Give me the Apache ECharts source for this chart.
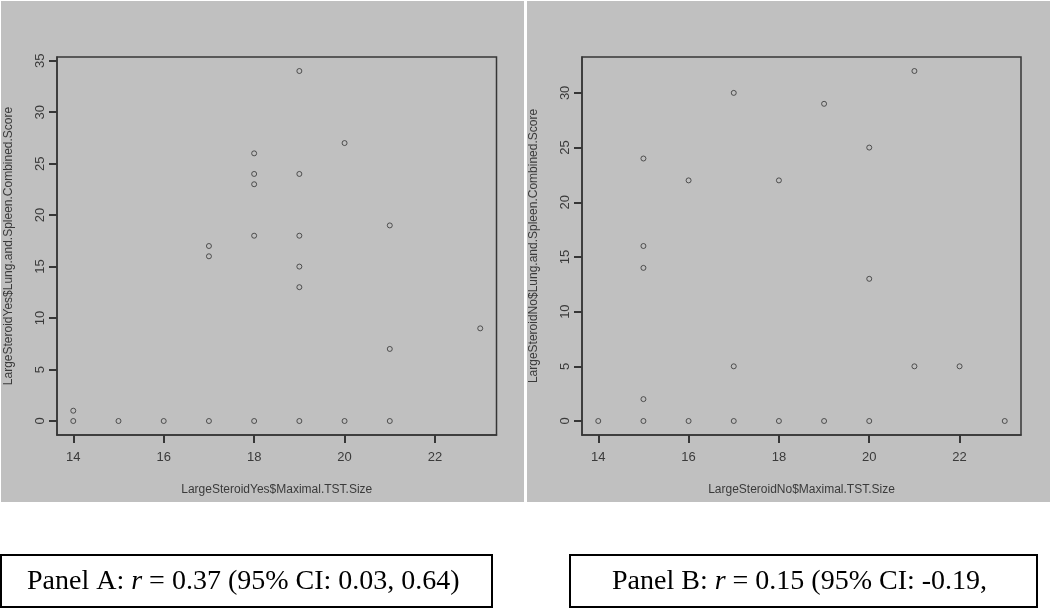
<!DOCTYPE html>
<html>
<head>
<meta charset="utf-8">
<script src="https://cdn.jsdelivr.net/npm/echarts@6/dist/echarts.min.js"></script>
<style>
html,body{margin:0;padding:0;background:#fff;}
#c{width:1050px;height:609px;}
</style>
</head>
<body>
<div id="c"></div>
<script>
// Panel A: Large steroid Yes
const sizeA  = [14, 14, 15, 16, 17, 17, 17, 18, 18, 18, 18, 18, 19, 19, 19, 19, 19, 19, 20, 20, 21, 21, 21, 23];
const scoreA = [ 0,  1,  0,  0,  0, 16, 17,  0, 18, 23, 24, 26,  0, 13, 15, 18, 24, 34,  0, 27,  0,  7, 19,  9];
// Panel B: Large steroid No
const sizeB  = [14, 15, 15, 15, 15, 15, 16, 16, 17, 17, 17, 18, 18, 19, 19, 20, 20, 20, 21, 21, 22, 23];
const scoreB = [ 0,  0,  2, 14, 16, 24,  0, 22,  0,  5, 30,  0, 22,  0, 29,  0, 13, 25,  5, 32,  5,  0];

const xTicks  = [14, 16, 18, 20, 22];
const yTicksA = [0, 5, 10, 15, 20, 25, 30, 35];
const yTicksB = [0, 5, 10, 15, 20, 25, 30];

const xTitleA = 'LargeSteroidYes$Maximal.TST.Size';
const yTitleA = 'LargeSteroidYes$Lung.and.Spleen.Combined.Score';
const xTitleB = 'LargeSteroidNo$Maximal.TST.Size';
const yTitleB = 'LargeSteroidNo$Lung.and.Spleen.Combined.Score';
const captionA = ['Panel A: ', 'r', ' = 0.37 (95% CI: 0.03, 0.64)'];
const captionB = ['Panel B: ', 'r', ' = 0.15 (95% CI: -0.19,'];

// R-style 4% range extension
function ext(lo, hi){ const d = (hi - lo) * 0.04; return [lo - d, hi + d]; }
const xrA = ext(Math.min(...sizeA), Math.max(...sizeA));
const yrA = ext(Math.min(...scoreA), Math.max(...scoreA));
const xrB = ext(Math.min(...sizeB), Math.max(...sizeB));
const yrB = ext(Math.min(...scoreB), Math.max(...scoreB));

const ink = '#363636';
const txt = '#3a3a3a';
const font = 'Liberation Sans, Arial, sans-serif';

function xAxis(gi, r, title){
  return {
    type: 'value', gridIndex: gi, min: r[0], max: r[1],
    name: title, nameLocation: 'middle', nameGap: 49,
    nameTextStyle: {color: txt, fontSize: 12, fontFamily: font},
    splitLine: {show: false},
    axisLine: {show: true, onZero: false, lineStyle: {color: ink, width: 1.5}},
    axisTick: {show: true, inside: false, length: 8, customValues: xTicks, lineStyle: {color: ink, width: 2}},
    axisLabel: {show: true, margin: 16, customValues: xTicks, color: txt, fontSize: 13, fontFamily: font}
  };
}
function yAxis(gi, r, ticks, title){
  return {
    type: 'value', gridIndex: gi, min: r[0], max: r[1],
    name: title, nameLocation: 'middle', nameGap: 42, nameRotate: 90,
    nameTextStyle: {color: txt, fontSize: 12, fontFamily: font},
    splitLine: {show: false},
    axisLine: {show: true, onZero: false, lineStyle: {color: ink, width: 1.5}},
    axisTick: {show: true, inside: false, length: 8, customValues: ticks, lineStyle: {color: ink, width: 2}},
    axisLabel: {show: true, margin: 10, rotate: 90, customValues: ticks, color: txt, fontSize: 13, fontFamily: font}
  };
}
const sym = {color: 'rgba(0,0,0,0)', borderColor: '#333', borderWidth: 1};

function caption(parts, x, y){
  return {
    type: 'text', left: x, top: y,
    style: {
      rich: {
        n: {fontFamily: 'Liberation Serif, Times New Roman, serif', fontSize: 28, fill: '#000'},
        i: {fontFamily: 'Liberation Serif, Times New Roman, serif', fontSize: 28, fontStyle: 'italic', fill: '#000'}
      },
      text: '{n|' + parts[0] + '}{i|' + parts[1] + '}{n|' + parts[2] + '}'
    }
  };
}

const chart = echarts.init(document.getElementById('c'), null, {renderer: 'canvas'});
chart.setOption({
  animation: false,
  backgroundColor: '#fff',
  graphic: [
    {type: 'rect', z: -10, shape: {x: 1, y: 1, width: 523, height: 501}, style: {fill: '#c0c0c0'}},
    {type: 'rect', z: -10, shape: {x: 527, y: 1, width: 523, height: 501}, style: {fill: '#c0c0c0'}},
    {type: 'rect', shape: {x: 1, y: 555, width: 491, height: 52}, style: {fill: '#fff', stroke: '#000', lineWidth: 2}},
    {type: 'rect', shape: {x: 570, y: 555, width: 467, height: 52}, style: {fill: '#fff', stroke: '#000', lineWidth: 2}},
    caption(captionA, 27, 568),
    caption(captionB, 612, 568)
  ],
  grid: [
    {left: 57, top: 57, width: 439.5, height: 378, show: true, backgroundColor: 'transparent', borderColor: ink, borderWidth: 1.5},
    {left: 582, top: 57, width: 439, height: 378, show: true, backgroundColor: 'transparent', borderColor: ink, borderWidth: 1.5}
  ],
  xAxis: [xAxis(0, xrA, xTitleA), xAxis(1, xrB, xTitleB)],
  yAxis: [yAxis(0, yrA, yTicksA, yTitleA), yAxis(1, yrB, yTicksB, yTitleB)],
  series: [
    {type: 'scatter', xAxisIndex: 0, yAxisIndex: 0, symbol: 'circle', symbolSize: 5, itemStyle: sym,
     data: sizeA.map((v, i) => [v, scoreA[i]])},
    {type: 'scatter', xAxisIndex: 1, yAxisIndex: 1, symbol: 'circle', symbolSize: 5, itemStyle: sym,
     data: sizeB.map((v, i) => [v, scoreB[i]])}
  ]
});
</script>
</body>
</html>
